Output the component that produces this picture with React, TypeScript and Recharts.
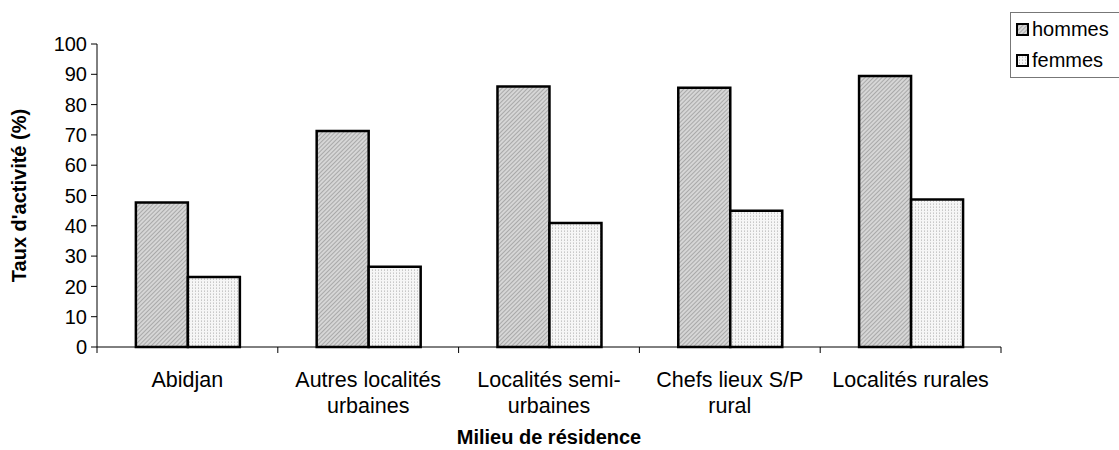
import { BarChart, Bar, XAxis, YAxis } from "recharts";

const categories = [
  "Abidjan",
  "Autres localités\nurbaines",
  "Localités semi-\nurbaines",
  "Chefs lieux S/P\nrural",
  "Localités rurales",
];
const hommes = [47.7, 71.3, 86.0, 85.6, 89.4];
const femmes = [23.1, 26.5, 40.9, 45.0, 48.7];
const yTicks = [0, 10, 20, 30, 40, 50, 60, 70, 80, 90, 100];
const legendItems = [
  { label: "hommes", fill: "url(#patHommes)" },
  { label: "femmes", fill: "url(#patFemmes)" },
];

const data = categories.map((name, i) => ({ name, hommes: hommes[i], femmes: femmes[i] }));

const FONT = "'Liberation Sans', Arial, sans-serif";
const PLOT_W = 904;

// Excel-style category axis: ticks sit between categories, labels wrap onto two lines
const CategoryTick = (props: any) => {
  const { x, y, payload, index, visibleTicksCount } = props;
  const count = visibleTicksCount || categories.length;
  const band = (props.width || PLOT_W) / count;
  const lines = String(payload.value).split("\n");
  return (
    <g>
      <line x1={x - band / 2} x2={x - band / 2} y1={y} y2={y + 6} stroke="#000" strokeWidth={1} />
      {index === count - 1 && (
        <line x1={x + band / 2} x2={x + band / 2} y1={y} y2={y + 6} stroke="#000" strokeWidth={1} />
      )}
      {lines.map((l, i) => (
        <text key={i} x={x} y={y + 40 + i * 26} textAnchor="middle" fontSize={21.5} fill="#000" fontFamily={FONT}>
          {l}
        </text>
      ))}
    </g>
  );
};

const LegendBox = () => (
  <div
    style={{
      position: "absolute",
      left: 1010,
      top: 12,
      border: "1px solid #777",
      background: "#fff",
      width: 115,
      height: 66,
      fontFamily: FONT,
      fontSize: 20,
      color: "#000",
      boxSizing: "border-box",
      padding: "1px 0 0 5px",
    }}
  >
    {legendItems.map((e) => (
      <div key={e.label} style={{ display: "flex", alignItems: "center", height: 31 }}>
        <svg width={14} height={14} style={{ marginRight: 2 }}>
          <rect x={1} y={1} width={11} height={11} fill={e.fill} stroke="#000" strokeWidth={2} />
        </svg>
        <span>{e.label}</span>
      </div>
    ))}
  </div>
);

export default function App() {
  return (
    <div style={{ position: "absolute", left: 0, top: 0, width: 1119, height: 450, background: "#fff", overflow: "hidden" }}>
      <svg width={0} height={0} style={{ position: "absolute" }}>
        <defs>
          <pattern id="patHommes" width={3} height={3} patternUnits="userSpaceOnUse" patternTransform="rotate(45)">
            <rect width={3} height={3} fill="#d6d6d6" />
            <rect width={1} height={3} fill="#a9a9a9" />
          </pattern>
          <pattern id="patFemmes" width={3} height={3} patternUnits="userSpaceOnUse">
            <rect width={3} height={3} fill="#f6f6f6" />
            <rect width={1} height={1} fill="#c8c8c8" />
            <rect y={2} width={1} height={1} fill="#d8d8d8" />
          </pattern>
        </defs>
      </svg>
      <BarChart
        width={1119}
        height={450}
        data={data}
        margin={{ top: 44, right: 118, left: 0, bottom: 0 }}
        barCategoryGap="21.5%"
        barGap={0}
        style={{ fontFamily: FONT }}
      >
        <XAxis
          dataKey="name"
          height={103}
          interval={0}
          tickLine={false}
          tickSize={0}
          tickMargin={0}
          axisLine={{ stroke: "#000", strokeWidth: 1 }}
          tick={<CategoryTick />}
          label={{
            content: ({ viewBox }: any) => (
              <text
                x={viewBox.x + viewBox.width / 2}
                y={444}
                textAnchor="middle"
                fontSize={20}
                fontWeight="bold"
                fontFamily={FONT}
                fill="#000"
              >
                Milieu de résidence
              </text>
            ),
          }}
        />
        <YAxis
          width={97}
          domain={[0, 100]}
          ticks={yTicks}
          interval={0}
          tickSize={6}
          tickMargin={4}
          axisLine={{ stroke: "#000", strokeWidth: 1 }}
          tickLine={{ stroke: "#000", strokeWidth: 1 }}
          tick={{ fontSize: 20, fill: "#000", fontFamily: FONT }}
          label={{
            content: ({ viewBox }: any) => {
              const cy = viewBox.y + viewBox.height / 2;
              return (
                <text
                  x={26}
                  y={cy}
                  transform={`rotate(-90 26 ${cy})`}
                  textAnchor="middle"
                  fontSize={20}
                  fontWeight="bold"
                  fontFamily={FONT}
                  fill="#000"
                >
                  Taux d'activité (%)
                </text>
              );
            },
          }}
        />
        <Bar dataKey="hommes" name="hommes" fill="url(#patHommes)" stroke="#000" strokeWidth={2.5} isAnimationActive={false} />
        <Bar dataKey="femmes" name="femmes" fill="url(#patFemmes)" stroke="#000" strokeWidth={2.5} isAnimationActive={false} />
      </BarChart>
      <LegendBox />
    </div>
  );
}
